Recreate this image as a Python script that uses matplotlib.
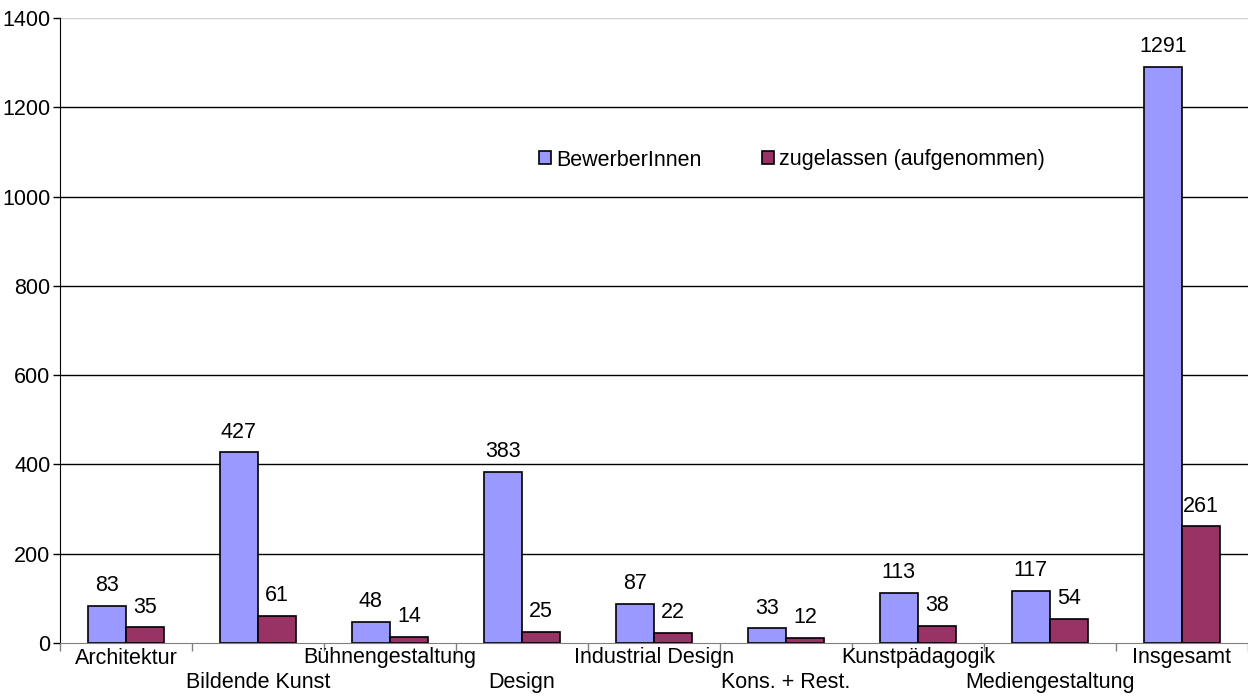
import matplotlib.pyplot as plt
import numpy as np

plt.rcParams["font.family"] = ["Liberation Sans", "DejaVu Sans"]

categories = ["Architektur", "Bildende Kunst", "Bühnengestaltung", "Design",
              "Industrial Design", "Kons. + Rest.", "Kunstpädagogik",
              "Mediengestaltung", "Insgesamt"]
bewerber = [83, 427, 48, 383, 87, 33, 113, 117, 1291]
zugelassen = [35, 61, 14, 25, 22, 12, 38, 54, 261]

blue = "#9999ff"
red = "#993366"
fs = 15.5

fig = plt.figure(figsize=(12.48, 6.97), dpi=100)
ax = fig.add_axes([60 / 1248, 1 - 643 / 697, 1188 / 1248, 625 / 697])

x = np.arange(len(categories))
w = 0.29
b1 = ax.bar(x - w / 2, bewerber, w, color=blue, edgecolor="black", lw=1.2,
            label="BewerberInnen", zorder=3)
b2 = ax.bar(x + w / 2, zugelassen, w, color=red, edgecolor="black", lw=1.2,
            label="zugelassen (aufgenommen)", zorder=3)
ax.bar_label(b1, padding=7, fontsize=fs)
ax.bar_label(b2, padding=7, fontsize=fs)

ax.set_xlim(-0.5, len(categories) - 0.5)
ax.set_ylim(0, 1400)
ax.set_yticks(range(0, 1401, 200))
ax.tick_params(axis="y", labelsize=fs, length=5, width=1, pad=2)
for y in range(200, 1201, 200):
    ax.axhline(y, color="black", lw=1, zorder=1)
ax.axhline(1400, color="#d0d0d0", lw=1, zorder=1)

ax.set_xticks(np.arange(len(categories) + 1) - 0.5)
ax.set_xticklabels([])
ax.tick_params(axis="x", length=6, color="#808080", width=1)
for i, c in enumerate(categories):
    ax.text(i, -0.024 if i % 2 == 0 else -0.063, c, transform=ax.get_xaxis_transform(),
            ha="center", va="center", fontsize=fs)

for s in ["top", "right"]:
    ax.spines[s].set_visible(False)
ax.spines["bottom"].set_color("#808080")
ax.spines["left"].set_color("black")

fig.legend(loc="center", bbox_to_anchor=(792 / 1248, 1 - 160 / 697), ncol=2,
           frameon=False, fontsize=fs, handlelength=0.55, handleheight=0.55,
           columnspacing=2.8, handletextpad=0.25)

fig.savefig("out.png", dpi=100)
